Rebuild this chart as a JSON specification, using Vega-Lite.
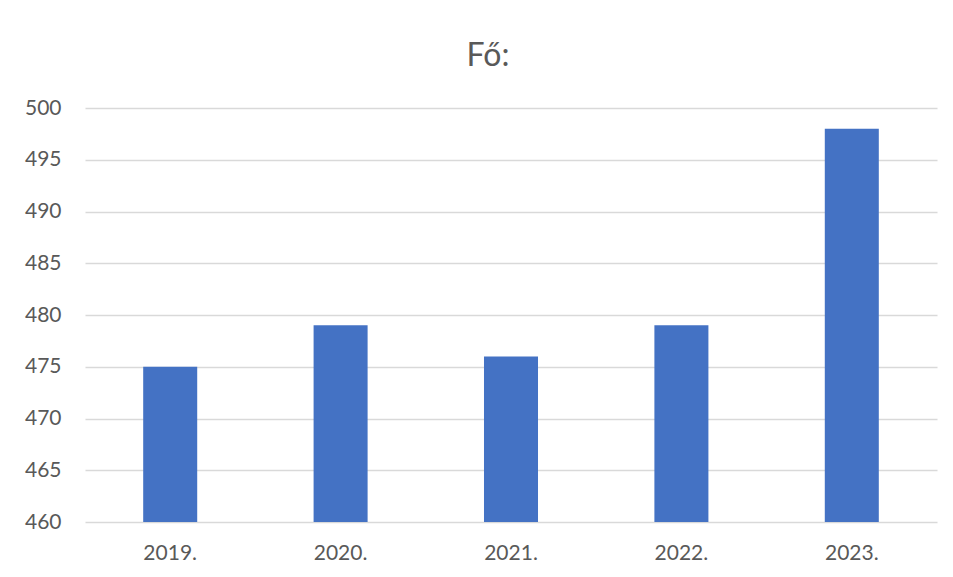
{
  "$schema": "https://vega.github.io/schema/vega-lite/v6.json",
  "autosize": "none",
  "width": 852,
  "height": 414,
  "padding": {"left": 85, "top": 108, "right": 16, "bottom": 55},
  "background": "white",
  "title": {
    "text": "Fő:",
    "anchor": "middle",
    "dx": -23,
    "offset": -8,
    "baseline": "bottom",
    "font": "Lato",
    "fontSize": 32,
    "fontWeight": "normal",
    "color": "#595959"
  },
  "data": {
    "values": [
      {"year": "2019.", "value": 475},
      {"year": "2020.", "value": 479},
      {"year": "2021.", "value": 476},
      {"year": "2022.", "value": 479},
      {"year": "2023.", "value": 498}
    ]
  },
  "mark": {"type": "bar", "color": "#4472C4", "clip": true},
  "encoding": {
    "x": {
      "field": "year",
      "type": "nominal",
      "sort": null,
      "scale": {"paddingInner": 0.683, "paddingOuter": 0.3415},
      "axis": {
        "title": null,
        "labelAngle": 0,
        "labelFont": "Lato",
        "labelFontSize": 21,
        "labelColor": "#595959",
        "labelPadding": 20,
        "ticks": false,
        "domain": false,
        "grid": false
      }
    },
    "y": {
      "field": "value",
      "type": "quantitative",
      "scale": {"domain": [460, 500], "zero": false, "nice": false},
      "axis": {
        "title": null,
        "values": [460, 465, 470, 475, 480, 485, 490, 495, 500],
        "labelFont": "Lato",
        "labelFontSize": 21,
        "labelColor": "#595959",
        "labelPadding": 24,
        "ticks": false,
        "domain": false,
        "grid": true,
        "gridColor": "#d9d9d9",
        "gridWidth": 1.5
      }
    },
    "y2": {"datum": 460}
  },
  "config": {"view": {"stroke": null}}
}
